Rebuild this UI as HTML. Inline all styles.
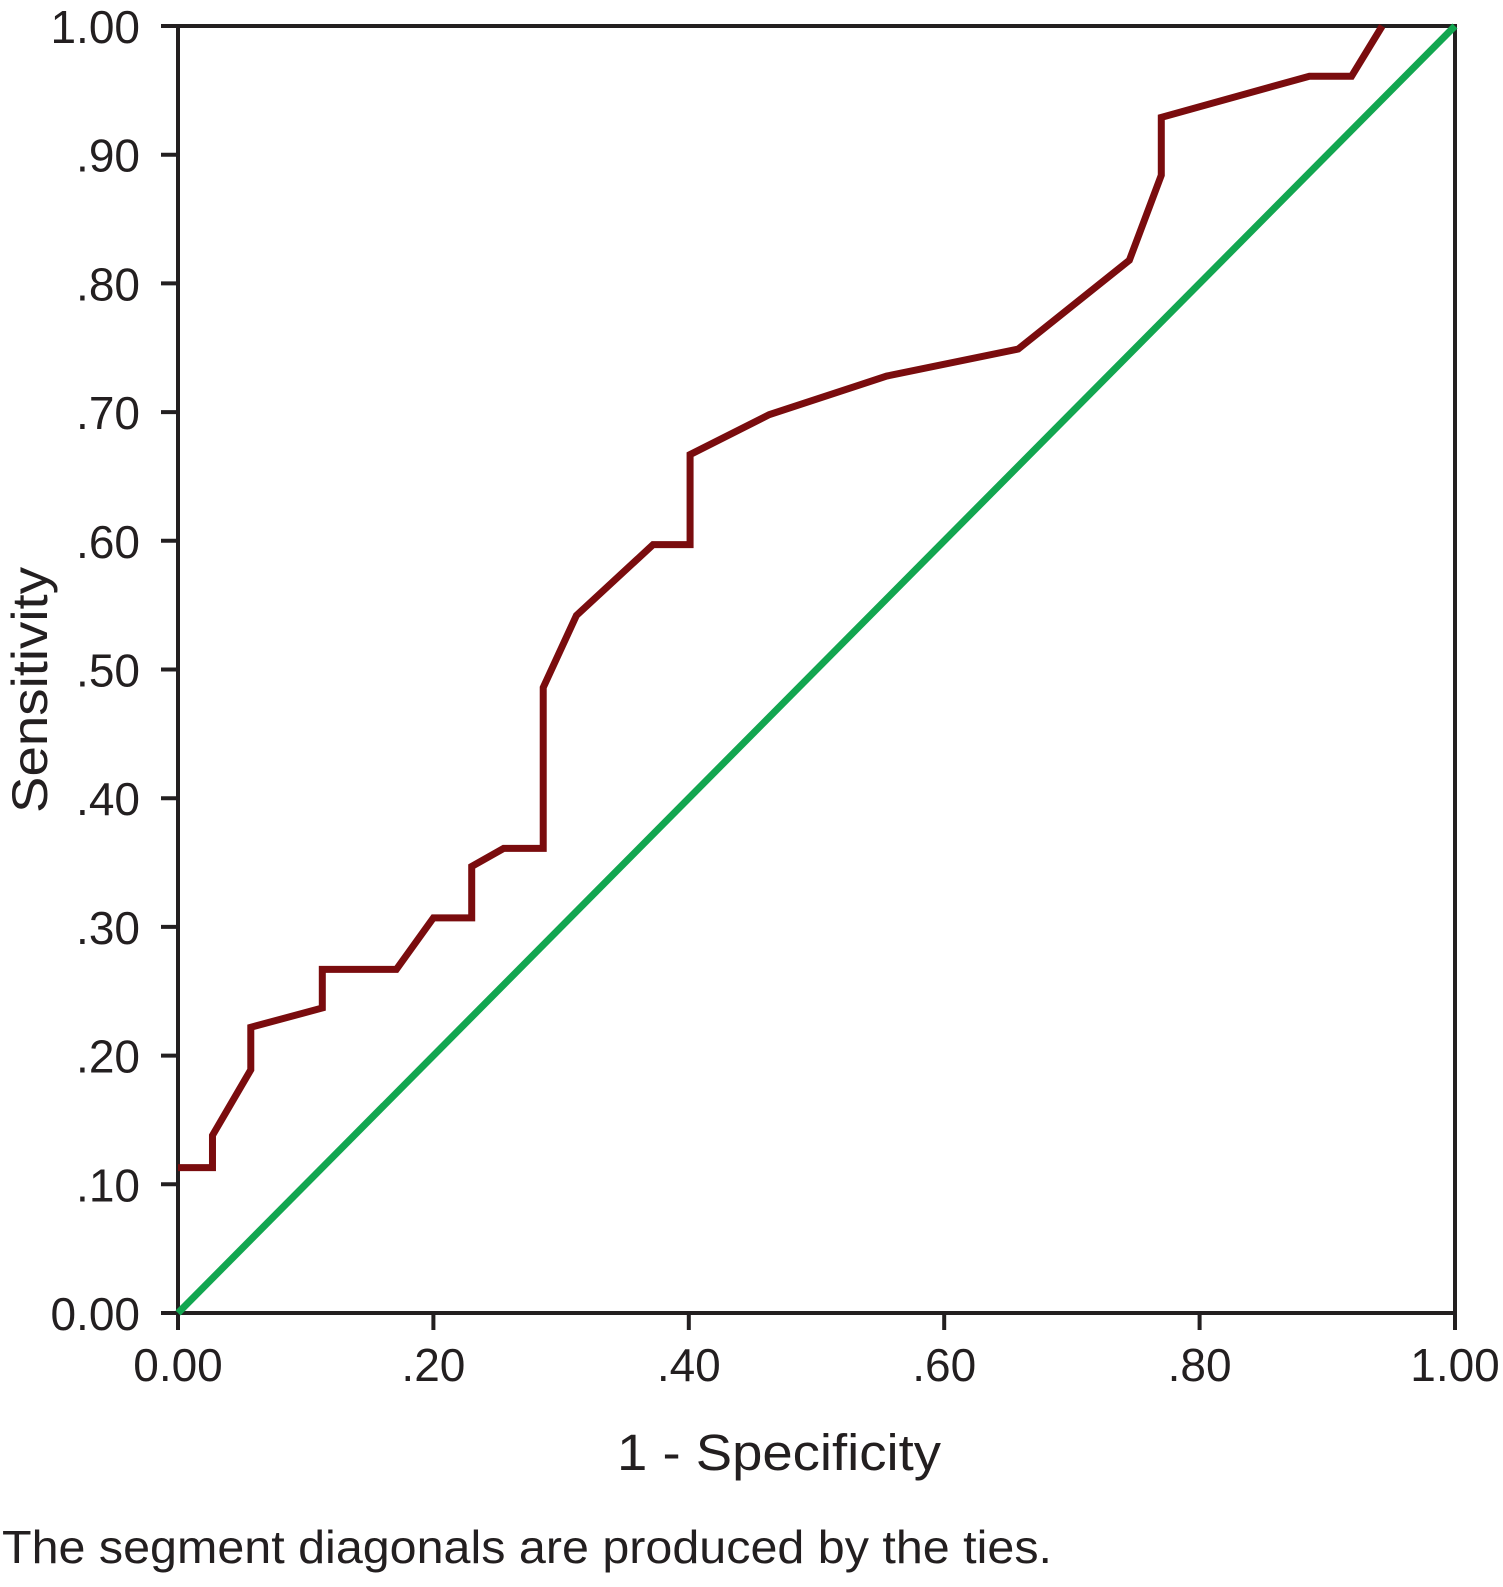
<!DOCTYPE html>
<html><head><meta charset="utf-8"><style>
html,body{margin:0;padding:0;background:#fff;}
svg{display:block;font-family:"Liberation Sans",Arial,sans-serif;}
</style></head><body>
<svg id="chart" width="1503" height="1587" viewBox="0 0 1503 1587" xmlns="http://www.w3.org/2000/svg">
<g id="axes"></g>
<g id="series"></g>
<text x="779" y="1470" font-size="51" text-anchor="middle" fill="#231f20" textLength="324" lengthAdjust="spacingAndGlyphs">1 - Specificity</text>
<text transform="translate(47,690) rotate(-90)" font-size="50" text-anchor="middle" fill="#231f20" textLength="246" lengthAdjust="spacingAndGlyphs">Sensitivity</text>
<text x="2" y="1563" font-size="46" fill="#231f20" textLength="1050" lengthAdjust="spacingAndGlyphs">The segment diagonals are produced by the ties.</text>
</svg>
<script>
const rocX = [0,0.027,0.027,0.057,0.057,0.113,0.113,0.171,0.200,0.230,0.230,0.255,0.286,0.286,0.312,0.372,0.401,0.401,0.463,0.555,0.658,0.745,0.770,0.770,0.886,0.919,0.943];
const rocY = [0.113,0.113,0.138,0.189,0.222,0.237,0.267,0.267,0.307,0.307,0.347,0.361,0.361,0.486,0.542,0.597,0.597,0.667,0.698,0.728,0.749,0.818,0.884,0.929,0.961,0.961,1.0];
const refX = [0,1];
const refY = [0,1];
const xTicks = [0,0.2,0.4,0.6,0.8,1.0];
const xTickLabels = ["0.00",".20",".40",".60",".80","1.00"];
const yTicks = [0,0.1,0.2,0.3,0.4,0.5,0.6,0.7,0.8,0.9,1.0];
const yTickLabels = ["0.00",".10",".20",".30",".40",".50",".60",".70",".80",".90","1.00"];

const X0=178,X1=1455,Y0=1313,Y1=26;
const sx=v=>X0+(X1-X0)*v;
const sy=v=>Y0-(Y0-Y1)*v;
const NS="http://www.w3.org/2000/svg";
const axes=document.getElementById('axes');
const series=document.getElementById('series');
function mk(tag,attrs,parent){const e=document.createElementNS(NS,tag);for(const k in attrs)e.setAttribute(k,attrs[k]);parent.appendChild(e);return e;}

const frame=mk('rect',{x:X0,y:Y1,width:X1-X0,height:Y0-Y1,fill:'none',stroke:'#231f20','stroke-width':4},axes);



xTicks.forEach((t,i)=>{
  const l=mk('line',{x1:sx(t),x2:sx(t),y1:Y0,y2:Y0+17,stroke:'#231f20','stroke-width':4},axes);
  
  
  const tx=mk('text',{x:sx(t),y:1381,'font-size':46,'text-anchor':'middle',fill:'#231f20'},axes);
  
  
  tx.textContent=xTickLabels[i];
});
yTicks.forEach((t,i)=>{
  const l=mk('line',{x1:X0-17,x2:X0,y1:sy(t),y2:sy(t),stroke:'#231f20','stroke-width':4},axes);
  
  
  const tx=mk('text',{x:140,y:sy(t)+17,'font-size':46,'text-anchor':'end',fill:'#231f20'},axes);
  
  
  tx.textContent=yTickLabels[i];
});

const ref=mk('polyline',{points:refX.map((v,i)=>sx(v)+','+sy(refY[i])).join(' '),fill:'none',stroke:'#12a650','stroke-width':7},series);


const roc=mk('polyline',{points:rocX.map((v,i)=>sx(v)+','+sy(rocY[i])).join(' '),fill:'none',stroke:'#7a0c0e','stroke-width':7,'stroke-linejoin':'miter'},series);


</script>
</body></html>
